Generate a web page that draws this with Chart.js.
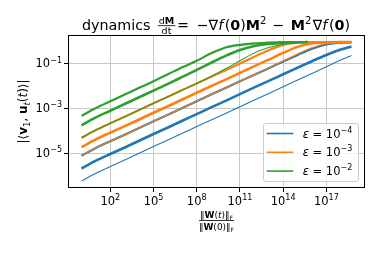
<!DOCTYPE html>
<html>
<head>
<meta charset="utf-8">
<script src="https://cdn.jsdelivr.net/npm/chart.js@4.4.0/dist/chart.umd.min.js"></script>
<style>
  html, body { margin: 0; padding: 0; background: #fff; }
  #wrap { width: 381px; height: 254px; }
</style>
</head>
<body>
<div id="wrap"><canvas id="chart" width="381" height="254"></canvas></div>
<script>
// norm ratio ||W(t)|| / ||W(0)||, blue/orange runs go further than the green ones
const xLong = [1, 1e1, 1e2, 1e3, 1e4, 1e5, 1e6, 1e7, 1e8, 1e9, 1e10, 1e11, 1e12, 1e13, 1e14, 1e15, 1e16, 1e17, 1e18, 5.5e18];
const xShort = [1, 1e1, 1e2, 1e3, 1e4, 1e5, 1e6, 1e7, 1e8, 1e9, 1e10, 1e11, 1e12, 1e13, 1e14, 1e15, 5e15];

// log10 |<v1, u_t(t)>|, three runs per epsilon
const blueLow  = [-6.25, -5.90, -5.60, -5.31, -5.01, -4.71, -4.42, -4.12, -3.82, -3.52, -3.23, -2.93, -2.63, -2.34, -2.04, -1.74, -1.45, -1.15, -0.85, -0.64];
const blueMid  = [-5.69, -5.34, -5.04, -4.75, -4.45, -4.15, -3.86, -3.56, -3.26, -2.96, -2.67, -2.37, -2.07, -1.78, -1.48, -1.19, -0.90, -0.62, -0.38, -0.24];
const blueHigh = [-5.12, -4.77, -4.47, -4.18, -3.88, -3.58, -3.29, -2.99, -2.69, -2.39, -2.10, -1.80, -1.50, -1.21, -0.91, -0.62, -0.34, -0.15, -0.08, -0.06];

const orangeLow  = [-5.12, -4.77, -4.47, -4.18, -3.88, -3.58, -3.29, -2.99, -2.69, -2.39, -2.10, -1.80, -1.50, -1.20, -0.89, -0.58, -0.30, -0.12, -0.07, -0.06];
const orangeMid  = [-4.74, -4.39, -4.09, -3.80, -3.50, -3.20, -2.91, -2.61, -2.31, -2.01, -1.72, -1.42, -1.12, -0.83, -0.53, -0.26, -0.10, -0.06, -0.05, -0.05];
const orangeHigh = [-4.32, -3.97, -3.67, -3.38, -3.08, -2.78, -2.49, -2.19, -1.89, -1.59, -1.30, -1.00, -0.70, -0.41, -0.17, -0.07, -0.05, -0.05, -0.05, -0.05];

const greenLow  = [-4.32, -3.97, -3.67, -3.38, -3.08, -2.78, -2.49, -2.19, -1.89, -1.58, -1.24, -0.88, -0.53, -0.29, -0.14, -0.07, -0.055];
const greenMid  = [-3.76, -3.41, -3.11, -2.81, -2.51, -2.21, -1.91, -1.60, -1.29, -0.97, -0.66, -0.40, -0.22, -0.13, -0.08, -0.06, -0.05];
const greenHigh = [-3.34, -2.99, -2.69, -2.39, -2.09, -1.79, -1.48, -1.17, -0.88, -0.55, -0.29, -0.17, -0.10, -0.07, -0.05, -0.045, -0.04];

const epsExps = ['−4', '−3', '−2'];
const xTickExps = [2, 5, 8, 11, 14, 17];
const yTickExps = [-1, -3, -5];

const BLUE = '#1f77b4', ORANGE = '#ff7f0e', GREEN = '#2ca02c';
const FONT = '"DejaVu Sans", sans-serif';

function pts(xs, logs) {
  return logs.map((v, i) => ({ x: xs[i], y: Math.pow(10, v) }));
}

function line(xs, logs, color, width) {
  return {
    data: pts(xs, logs),
    borderColor: color,
    borderWidth: width,
    pointRadius: 0,
    fill: false,
    cubicInterpolationMode: 'monotone'
  };
}

// green first so it is drawn on top, blue last
const datasets = [
  line(xShort, greenLow, GREEN, 1.1),
  line(xShort, greenMid, GREEN, 2.6),
  line(xShort, greenHigh, GREEN, 2.2),
  line(xLong, orangeLow, ORANGE, 1.1),
  line(xLong, orangeMid, ORANGE, 2.6),
  line(xLong, orangeHigh, ORANGE, 2.2),
  line(xLong, blueLow, BLUE, 1.1),
  line(xLong, blueMid, BLUE, 2.6),
  line(xLong, blueHigh, BLUE, 2.2)
];

function font(p) {
  return (p.style || 'normal') + ' ' + (p.weight || 'normal') + ' ' + p.size + 'px ' + FONT;
}
function partWidth(ctx, p) {
  if (p.gap) return p.gap;
  ctx.font = font(p);
  return ctx.measureText(p.t).width;
}
function richWidth(ctx, parts) {
  return parts.reduce((w, p) => w + partWidth(ctx, p), 0);
}
function drawRich(ctx, parts, x, y, align) {
  const w = richWidth(ctx, parts);
  let cx = align === 'center' ? x - w / 2 : align === 'right' ? x - w : x;
  ctx.textBaseline = 'alphabetic';
  ctx.textAlign = 'left';
  parts.forEach(p => {
    if (!p.gap) {
      ctx.font = font(p);
      ctx.fillText(p.t, cx, y + (p.dy || 0));
    }
    cx += partWidth(ctx, p);
  });
  return w;
}

function powLabel(exp, size) {
  return [{ t: '10', size: size }, { t: String(exp).replace('-', '−'), size: size * 0.7, dy: -size * 0.42 }];
}

const decor = {
  id: 'decor',
  afterDraw(chart) {
    const ctx = chart.ctx;
    const a = chart.chartArea;
    const xs = chart.scales.x, ys = chart.scales.y;
    const cx = (a.left + a.right) / 2;
    ctx.save();
    ctx.fillStyle = '#000';

    // frame
    ctx.strokeStyle = '#000';
    ctx.lineWidth = 1;
    ctx.strokeRect(a.left + 0.5, a.top + 0.5, a.right - a.left - 1, a.bottom - a.top - 1);

    // tick labels
    xTickExps.forEach(e => {
      drawRich(ctx, powLabel(e, 11.5), xs.getPixelForValue(Math.pow(10, e)), a.bottom + 17, 'center');
    });
    yTickExps.forEach(e => {
      drawRich(ctx, powLabel(e, 11.5), a.left - 6, ys.getPixelForValue(Math.pow(10, e)) + 4, 'right');
    });

    // title: "dynamics", fraction dM/dt, then the right hand side spread out like mathtext
    const T = 14.3, S = T * 0.7, up = -6;
    const right = [
      { t: '=', size: T }, { gap: 5 }, { t: '−∇', size: T }, { t: 'f', size: T, style: 'italic' },
      { gap: 1 }, { t: '(', size: T }, { t: '0', size: T, weight: 'bold' }, { t: ')', size: T },
      { t: 'M', size: T, weight: 'bold' }, { t: '2', size: S, dy: up }, { gap: 4 }, { t: '−', size: T }, { gap: 4 },
      { t: 'M', size: T, weight: 'bold' }, { t: '2', size: S, dy: up }, { gap: 1 }, { t: '∇', size: T },
      { t: 'f', size: T, style: 'italic' }, { gap: 1 }, { t: '(', size: T }, { t: '0', size: T, weight: 'bold' },
      { t: ')', size: T }
    ];
    const rStart = 177, rEnd = 350;
    const gapSum = right.reduce((s, p) => s + (p.gap || 0), 0);
    const k = 1 + (rEnd - rStart - richWidth(ctx, right)) / gapSum;
    right.forEach(p => { if (p.gap) p.gap = Math.max(0.5, p.gap * k); });
    drawRich(ctx, [{ t: 'dynamics', size: T }], 82, 29.5, 'left');
    const num = [{ t: 'd', size: 9.5 }, { t: 'M', size: 9.5, weight: 'bold' }];
    const den = [{ t: 'dt', size: 9.5 }];
    const wf = Math.max(richWidth(ctx, num), richWidth(ctx, den)) + 2;
    const fc = 166.5;
    drawRich(ctx, num, fc, 23.8, 'center');
    ctx.fillRect(fc - wf / 2, 25.3, wf, 0.8);
    drawRich(ctx, den, fc, 33.7, 'center');
    drawRich(ctx, right, rStart, 29.5, 'left');

    // x label (fraction)
    const xn = [{ t: '‖', size: 9 }, { t: 'W', size: 9, weight: 'bold' }, { t: '(', size: 9 },
      { t: 't', size: 9, style: 'italic' }, { t: ')‖', size: 9 }, { t: 'F', size: 6, dy: 2 }];
    const xd = [{ t: '‖', size: 9 }, { t: 'W', size: 9, weight: 'bold' }, { t: '(0)‖', size: 9 },
      { t: 'F', size: 6, dy: 2 }];
    const wx = Math.max(richWidth(ctx, xn), richWidth(ctx, xd));
    drawRich(ctx, xn, cx, 217.5, 'center');
    ctx.fillRect(cx - wx / 2, 220, wx, 0.8);
    drawRich(ctx, xd, cx, 229.5, 'center');

    // y label, rotated
    ctx.save();
    ctx.translate(27, (a.top + a.bottom) / 2);
    ctx.rotate(-Math.PI / 2);
    const Y = 12;
    drawRich(ctx, [
      { t: '|⟨', size: Y }, { t: 'v', size: Y, weight: 'bold' }, { t: '1', size: Y * 0.7, dy: 2.5 },
      { t: ', ', size: Y }, { t: 'u', size: Y, weight: 'bold' }, { t: 't', size: Y * 0.7, style: 'italic', dy: 2.5 },
      { t: '(', size: Y }, { t: 't', size: Y, style: 'italic' }, { t: ')⟩|', size: Y }
    ], 0, 0, 'center');
    ctx.restore();

    // legend
    const lx = 263.5, ly = 123.5, lw = 95, lh = 58;
    ctx.beginPath();
    ctx.roundRect(lx, ly, lw, lh, 2.5);
    ctx.fillStyle = 'rgba(255,255,255,0.8)';
    ctx.fill();
    ctx.strokeStyle = '#cccccc';
    ctx.lineWidth = 1;
    ctx.stroke();
    [BLUE, ORANGE, GREEN].forEach((c, i) => {
      const ry = 133.5 + i * 18.8;
      ctx.strokeStyle = c;
      ctx.lineWidth = 1.6;
      ctx.beginPath();
      ctx.moveTo(266.7, ry);
      ctx.lineTo(293.3, ry);
      ctx.stroke();
      ctx.fillStyle = '#000';
      drawRich(ctx, [
        { t: 'ε', size: 11.5, style: 'italic' }, { t: ' = ', size: 11.5 }, { t: '10', size: 11.5 },
        { t: epsExps[i], size: 8, dy: -5 }
      ], 302.7, ry + 4, 'left');
    });
    ctx.restore();
  }
};

const gridOpts = { color: '#c8c8c8', lineWidth: 1, tickColor: '#000', tickLength: 4, drawTicks: true };

new Chart(document.getElementById('chart'), {
  type: 'line',
  data: { datasets: datasets },
  options: {
    responsive: false,
    devicePixelRatio: 1,
    animation: false,
    layout: { padding: { top: 35, right: 16, bottom: 0, left: 0 } },
    plugins: { legend: { display: false }, tooltip: { enabled: false } },
    scales: {
      x: {
        type: 'logarithmic',
        min: Math.pow(10, -0.937),
        max: Math.pow(10, 19.68),
        grid: gridOpts,
        border: { display: false },
        ticks: { display: false },
        afterBuildTicks: s => { s.ticks = xTickExps.map(e => ({ value: Math.pow(10, e) })); },
        afterFit: s => { s.height = 66; }
      },
      y: {
        type: 'logarithmic',
        min: Math.pow(10, -6.56),
        max: Math.pow(10, 0.27),
        grid: gridOpts,
        border: { display: false },
        ticks: { display: false },
        afterBuildTicks: s => { s.ticks = yTickExps.map(e => ({ value: Math.pow(10, e) })); },
        afterFit: s => { s.width = 68; }
      }
    }
  },
  plugins: [decor]
});
</script>
</body>
</html>
